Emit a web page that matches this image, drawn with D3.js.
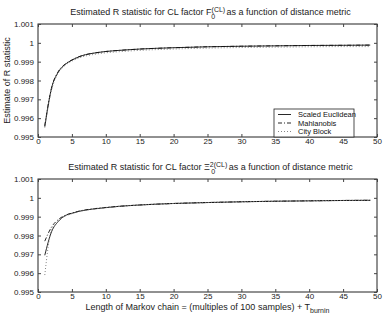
<!DOCTYPE html>
<html>
<head>
<meta charset="utf-8">
<script src="https://cdn.jsdelivr.net/npm/d3@7"></script>
<style>
  body { margin: 0; background: #fff; }
  svg { display: block; font-family: "Liberation Sans", Arial, sans-serif; }
</style>
</head>
<body>
<div id="svg_container"></div>
<script>
// Data
var xs = [1, 2, 3, 4, 5, 6, 7, 8, 10, 12, 15, 20, 25, 30, 35, 40, 45, 49];

// top panel: factor F0
var topEuclid = [0.99555, 0.9976, 0.99845, 0.99885, 0.99908, 0.99925, 0.99937, 0.99944, 0.99954, 0.9996, 0.99967, 0.99974, 0.99979, 0.99982, 0.99984, 0.99986, 0.99987, 0.99988];
var topMahl   = [0.99560, 0.9976, 0.99848, 0.99887, 0.99909, 0.99926, 0.99937, 0.99944, 0.99954, 0.9996, 0.99967, 0.99974, 0.99979, 0.99982, 0.99984, 0.99986, 0.99987, 0.99988];
var topCity   = [0.99550, 0.9975, 0.99840, 0.99880, 0.99903, 0.99919, 0.99930, 0.99937, 0.99947, 0.99953, 0.9996, 0.99967, 0.99972, 0.99975, 0.99977, 0.99979, 0.9998, 0.9998];

// bottom panel: factor Xi0
var botEuclid = [0.99695, 0.9982, 0.99875, 0.99905, 0.99918, 0.99928, 0.99935, 0.9994, 0.99948, 0.99955, 0.99962, 0.9997, 0.99975, 0.99979, 0.99982, 0.99984, 0.99986, 0.99987];
var botMahl   = [0.99770, 0.99845, 0.99885, 0.99907, 0.99919, 0.99929, 0.99936, 0.99941, 0.99949, 0.99955, 0.99962, 0.9997, 0.99975, 0.99979, 0.99982, 0.99984, 0.99986, 0.99987];
var botCity   = [0.99590, 0.99835, 0.99882, 0.99903, 0.99916, 0.99927, 0.99934, 0.9994, 0.99948, 0.99955, 0.99962, 0.9997, 0.99975, 0.99979, 0.99982, 0.99984, 0.99986, 0.99987];

var xTicks = [0, 5, 10, 15, 20, 25, 30, 35, 40, 45, 50];
var yTicks = [0.995, 0.996, 0.997, 0.998, 0.999, 1, 1.001];
var yTickLabels = ["0.995", "0.996", "0.997", "0.998", "0.999", "1", "1.001"];
var seriesNames = ["Scaled Euclidean", "Mahlanobis", "City Block"];
var dashes = [null, "4,2,1,2", "1,2"];

var W = 384, H = 320;
var left = 38, right = 377;

var svg = d3.select("#svg_container")
    .append("svg")
    .attr("width", W)
    .attr("height", H);

var x = d3.scaleLinear().domain([0, 50]).range([left, right]);

function draw_panel(top, bottom, data, titleParts, withLegend) {
    var y = d3.scaleLinear().domain([0.995, 1.001]).range([bottom, top]);
    var g = svg.append("g");

    // box
    g.append("rect")
        .attr("x", left).attr("y", top)
        .attr("width", right - left).attr("height", bottom - top)
        .attr("fill", "none").attr("stroke", "#222").attr("stroke-width", 1);

    // ticks inside, on all four sides
    var xb = g.append("g").attr("transform", "translate(0," + bottom + ")")
        .call(d3.axisBottom(x).tickValues(xTicks).tickSizeInner(-3).tickSizeOuter(0).tickPadding(1));
    var xt = g.append("g").attr("transform", "translate(0," + top + ")")
        .call(d3.axisTop(x).tickValues(xTicks).tickSizeInner(-3).tickSizeOuter(0).tickFormat(""));
    var yl = g.append("g").attr("transform", "translate(" + left + ",0)")
        .call(d3.axisLeft(y).tickValues(yTicks).tickSizeInner(-3).tickSizeOuter(0).tickPadding(4)
            .tickFormat(function(d, i) { return yTickLabels[i]; }));
    var yr = g.append("g").attr("transform", "translate(" + right + ",0)")
        .call(d3.axisRight(y).tickValues(yTicks).tickSizeInner(-3).tickSizeOuter(0).tickFormat(""));

    [xb, xt, yl, yr].forEach(function(a) {
        a.select(".domain").remove();
        a.selectAll("line").attr("stroke", "#444");
        a.selectAll("text").attr("font-size", "8px").attr("fill", "#222")
            .attr("font-family", "Liberation Sans, Arial, sans-serif");
    });

    // lines
    data.forEach(function(vals, i) {
        var line = d3.line()
            .x(function(d, j) { return x(xs[j]); })
            .y(function(d) { return y(d); })
            .curve(d3.curveMonotoneX);
        g.append("path")
            .datum(vals)
            .attr("d", line)
            .attr("fill", "none")
            .attr("stroke", i == 2 ? "#777" : "#111")
            .attr("stroke-width", 0.9)
            .attr("stroke-dasharray", dashes[i]);
    });

    // title
    var t = g.append("text")
        .attr("x", (left + right) / 2 + 3)
        .attr("y", top - 9)
        .attr("text-anchor", "middle")
        .attr("font-size", "9px")
        .attr("fill", "#222");
    t.append("tspan").text(titleParts[0]);
    t.append("tspan").attr("font-size", "7px").attr("dy", "-3.5").text(titleParts[1]);
    t.append("tspan").attr("font-size", "7px").attr("dx", "-" + titleParts[3]).attr("dy", "7").text("0");
    t.append("tspan").attr("dx", titleParts[4]).attr("dy", "-3.5").text(titleParts[2]);

    if (withLegend) {
        var lx = 274, ly = 109, lw = 80, lh = 28;
        var lg = g.append("g");
        lg.append("rect").attr("x", lx).attr("y", ly).attr("width", lw).attr("height", lh)
            .attr("fill", "#fff").attr("stroke", "#222").attr("stroke-width", 0.8);
        seriesNames.forEach(function(name, i) {
            var yy = ly + 5.5 + i * 8.5;
            lg.append("line").attr("x1", lx + 4).attr("x2", lx + 17)
                .attr("y1", yy).attr("y2", yy)
                .attr("stroke", i == 2 ? "#777" : "#111").attr("stroke-width", 0.9)
                .attr("stroke-dasharray", dashes[i]);
            lg.append("text").attr("x", lx + 24).attr("y", yy + 2.8)
                .attr("font-size", "7.5px").attr("fill", "#111").text(name);
        });
    }
    return y;
}

draw_panel(24, 137, [topEuclid, topMahl, topCity],
    ["Estimated R statistic for CL factor F", "(CL)", " as a function of distance metric", 14, 9], true);
draw_panel(179, 292, [botEuclid, botMahl, botCity],
    ["Estimated R statistic for CL factor \u039E", "2(CL)", " as a function of distance metric", 16, 11], false);

// y label
svg.append("text")
    .attr("transform", "translate(10," + (24 + 137) / 2 + ") rotate(-90)")
    .attr("text-anchor", "middle")
    .attr("font-size", "9px")
    .attr("fill", "#222")
    .text("Estimate of R statistic");

// x label
var xl = svg.append("text")
    .attr("x", (left + right) / 2)
    .attr("y", 310)
    .attr("text-anchor", "middle")
    .attr("font-size", "9px")
    .attr("fill", "#222");
xl.append("tspan").text("Length of Markov chain = (multiples of 100 samples) + T");
xl.append("tspan").attr("font-size", "7px").attr("dy", "3").text("burnin");
</script>
</body>
</html>
